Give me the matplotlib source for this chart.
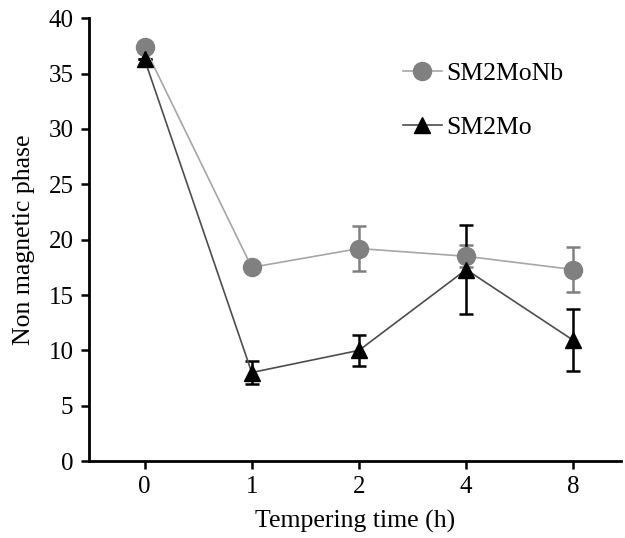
import matplotlib
matplotlib.use("Agg")
import matplotlib.pyplot as plt

plt.rcParams['font.family'] = ['Liberation Serif', 'DejaVu Serif']

# Data
time_labels = ['0', '1', '2', '4', '8']
nb_values = [37.4, 17.5, 19.2, 18.5, 17.3]
nb_err = [0.0, 0.0, 2.0, 1.0, 2.0]
mo_values = [36.3, 8.0, 10.0, 17.3, 10.9]
mo_err = [0.0, 1.0, 1.4, 4.0, 2.8]

x = list(range(len(time_labels)))

fig = plt.figure(figsize=(6.25, 5.38), dpi=100)
ax = fig.add_axes([0.142, 0.143, 0.851, 0.823])

# error bars first (not in legend)
ax.errorbar(x, nb_values, yerr=nb_err, fmt='none', ecolor='#808080',
            elinewidth=1.8, capsize=5, capthick=1.8, zorder=2)
ax.errorbar(x, mo_values, yerr=mo_err, fmt='none', ecolor='black',
            elinewidth=1.8, capsize=5, capthick=1.8, zorder=3)

ax.plot(x, nb_values, color='#a6a6a6', linewidth=1.2, marker='o', markersize=13,
        markerfacecolor='#808080', markeredgecolor='#808080', label='SM2MoNb', zorder=4)
ax.plot(x, mo_values, color='#4d4d4d', linewidth=1.2, marker='^', markersize=12,
        markerfacecolor='black', markeredgecolor='black', label='SM2Mo', zorder=5)

ax.set_xlim(-0.52, 4.44)
ax.set_ylim(0, 40)
ax.set_xticks(x)
ax.set_xticklabels(time_labels)
ax.set_yticks(range(0, 41, 5))

ax.spines['top'].set_visible(False)
ax.spines['right'].set_visible(False)
for s in ['left', 'bottom']:
    ax.spines[s].set_linewidth(2)
ax.tick_params(direction='out', length=6, width=1.8, labelsize=18, pad=5)

ax.set_xlabel('Tempering time (h)', fontsize=18.5, labelpad=8)
ax.set_ylabel('Non magnetic phase', fontsize=18.5, labelpad=10)

ax.legend(loc='upper left', bbox_to_anchor=(403 / 625, 1 - 62 / 538),
          bbox_transform=fig.transFigure, frameon=False, borderpad=0, borderaxespad=0,
          fontsize=18.5, handlelength=1.5, handletextpad=0.2, labelspacing=1.2)

fig.savefig('out.png', dpi=100)
